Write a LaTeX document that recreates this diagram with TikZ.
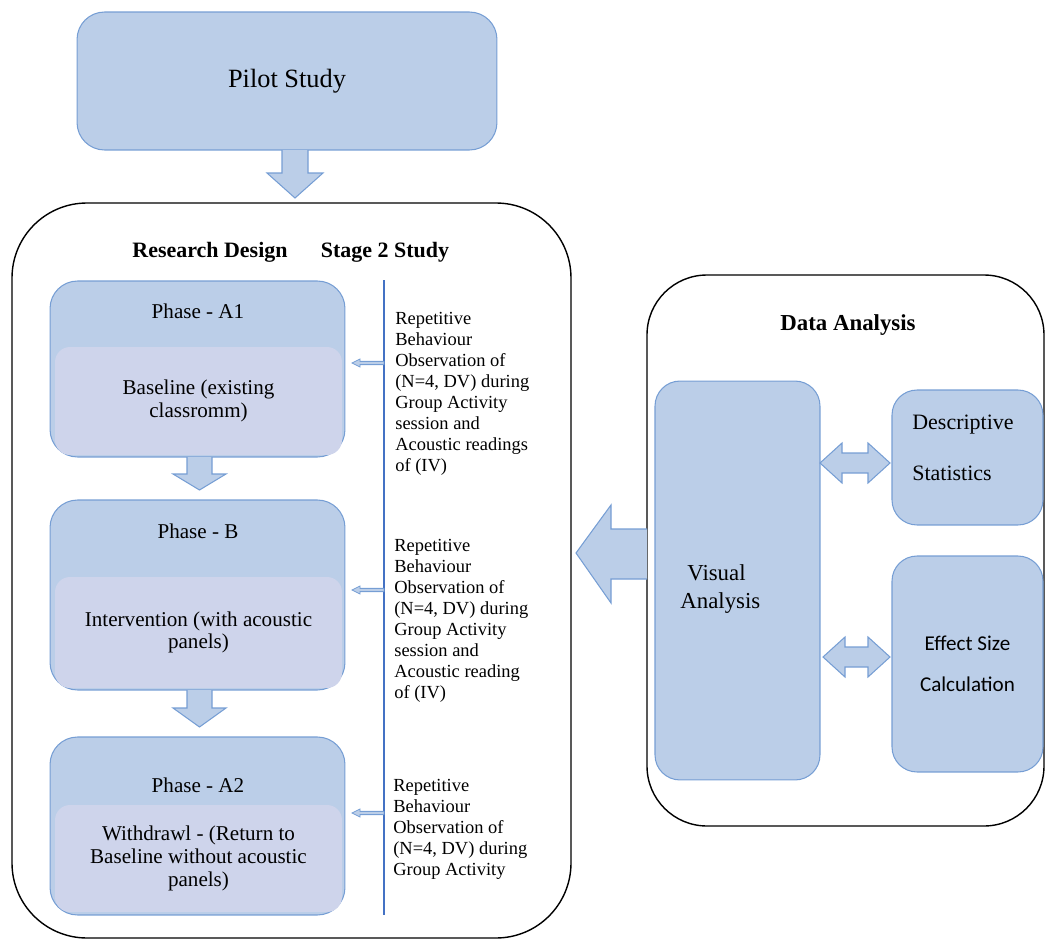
\documentclass[tikz,border=0pt]{standalone}
\usepackage{fontspec}
\setmainfont{Liberation Serif}
\newfontfamily\calibri{Carlito}
\usetikzlibrary{positioning}
\definecolor{boxfill}{RGB}{187,206,232}
\definecolor{boxline}{RGB}{118,158,212}
\definecolor{innerfill}{RGB}{206,212,235}
\definecolor{rulecol}{RGB}{68,114,196}

\begin{document}
\begin{tikzpicture}[
  x=0.02cm,y=-0.02cm,
  bluebox/.style={rectangle,rounded corners=#1,draw=boxline,fill=boxfill,
    line width=.6pt,inner sep=0pt},
  bluebox/.default=0.55cm,
  innerbox/.style={rectangle,rounded corners=.3cm,fill=innerfill,inner sep=0pt,
    align=center,font=\fontsize{12}{13}\selectfont},
  frame/.style={draw=black,line width=.8pt,rounded corners=#1},
  blockarrow/.style={draw=boxline,fill=boxfill,line width=.6pt,line join=miter},
  title/.style={font=\fontsize{12.5}{14}\selectfont\bfseries},
  phase/.style={font=\fontsize{12}{13}\selectfont},
  obs/.style={align=left,inner sep=0pt,font=\fontsize{10.5}{12}\selectfont}
]
  \useasboundingbox (0,0) rectangle (1046,940);
  % outer frames
  \draw[frame=1.5cm] (12,203) rectangle (571,938);
  \draw[frame=1.2cm] (647,275) rectangle (1044,826);
  % pilot study
  \node[bluebox, minimum width=8.4cm, minimum height=2.76cm,
    font=\fontsize{15}{17}\selectfont] (pilot) at (287,81) {Pilot Study};
  \draw[blockarrow] (282,150) -- (282,173) -- (267,173) -- (295,198)
    -- (323,173) -- (308,173) -- (308,150);
  % research design
  \node[title] (design) at (210,252) {Research Design};
  \node[title] (stage) at (385,252) {Stage 2 Study};
  \node[bluebox, minimum width=5.9cm, minimum height=3.52cm] (phA1) at (197.5,369) {};
  \node[innerbox, minimum width=5.74cm, minimum height=2.16cm] (inA1) at (198.5,401)
    {Baseline (existing\\classromm)};
  \node[phase] at (198,311) {Phase - A1};
  \node[bluebox, minimum width=5.9cm, minimum height=3.8cm] (phB) at (197.5,595) {};
  \node[innerbox, minimum width=5.74cm, minimum height=2.22cm] (inB) at (198.5,632.5)
    {Intervention (with acoustic\\panels)};
  \node[phase] at (198,531) {Phase - B};
  \node[bluebox, minimum width=5.9cm, minimum height=3.56cm] (phA2) at (197.5,826) {};
  \node[innerbox, minimum width=5.74cm, minimum height=2.14cm] (inA2) at (198.5,858.5)
    {Withdrawl - (Return to\\Baseline without acoustic\\panels)};
  \node[phase] at (198,785) {Phase - A2};
  \draw[blockarrow] (187,457) -- (187,474) -- (173,474) -- (199.5,490)
    -- (226,474) -- (212,474) -- (212,457);
  \draw[blockarrow] (187,690) -- (187,708) -- (173,708) -- (199.5,727)
    -- (226,708) -- (212,708) -- (212,690);
  % observations
  \draw[rulecol,line width=.7pt] (384,280) -- (384,915);
  \foreach \yy in {363,590,813}
    \draw[blockarrow,line width=.5pt] (384,\yy-1.6) -- (360,\yy-1.6) -- (360,\yy-4)
      -- (352,\yy) -- (360,\yy+4) -- (360,\yy+1.6) -- (384,\yy+1.6) -- cycle;
  \node[obs,anchor=north west] (obsA1) at (395,311.5) {Repetitive\\Behaviour\\Observation of\\(N=4, DV) during\\Group Activity\\session and\\Acoustic readings\\of (IV)};
  \node[obs,anchor=north west] (obsB) at (394,538.5) {Repetitive\\Behaviour\\Observation of\\(N=4, DV) during\\Group Activity\\session and\\Acoustic reading\\of (IV)};
  \node[obs,anchor=north west] (obsA2) at (393,778.5) {Repetitive\\Behaviour\\Observation of\\(N=4, DV) during\\Group Activity};
  % data analysis
  \node[title,font=\fontsize{13}{15}\selectfont\bfseries] (data) at (848,325) {Data Analysis};
  \node[bluebox=.5cm, minimum width=3.3cm, minimum height=7.98cm] (visual) at (737.5,580.5) {};
  \node[align=left,anchor=west,inner sep=0pt,font=\fontsize{13}{16}\selectfont]
    at (680,589) {\hspace*{4pt}Visual\\Analysis};
  \node[bluebox=.5cm, minimum width=3.02cm, minimum height=2.7cm] (descr) at (967.5,457.5) {};
  \node[align=left,anchor=west,inner sep=0pt,font=\fontsize{12.5}{29}\selectfont]
    at (912,447.5) {Descriptive\\Statistics};
  \node[bluebox=.5cm, minimum width=3.02cm, minimum height=4.32cm,
    align=center,font=\calibri\fontsize{12}{23.2}\selectfont] (effect) at (967.5,664)
    {Effect Size\\Calculation};
  \draw[blockarrow] (820,463) -- (842,443) -- (842,453) -- (868,453) -- (868,443)
    -- (890,463) -- (868,483) -- (868,473) -- (842,473) -- (842,483) -- cycle;
  \draw[blockarrow] (823,657) -- (845,637) -- (845,647) -- (868,647) -- (868,637)
    -- (890,657) -- (868,677) -- (868,667) -- (845,667) -- (845,677) -- cycle;
  \draw[blockarrow] (647,529) -- (611,529) -- (611,505) -- (576,553) -- (611,603)
    -- (611,579) -- (647,579);
\end{tikzpicture}
\end{document}
